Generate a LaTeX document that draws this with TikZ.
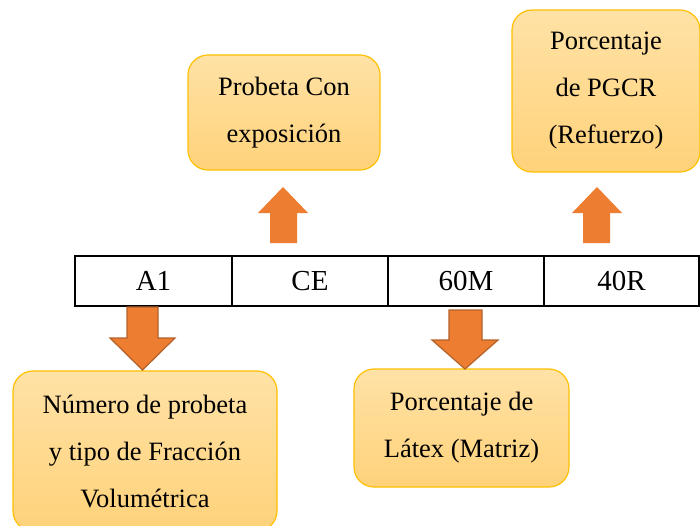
\documentclass[tikz,border=0pt]{standalone}
\usepackage{fontspec}
\setmainfont{Liberation Serif}
\definecolor{arroworange}{HTML}{ED7D31}
\definecolor{arrowedge}{HTML}{B4622A}
\definecolor{boxedge}{HTML}{FFC000}
\definecolor{boxtop}{HTML}{FFE2A6}
\definecolor{boxbot}{HTML}{FFD27A}
\begin{document}
\begin{tikzpicture}[x=1pt,y=-1pt,
  infobox/.style={draw=boxedge, line width=1.2pt, rounded corners=20pt,
    top color=boxtop, bottom color=boxbot, align=center,
    inner sep=0pt, outer sep=0pt,
    font=\fontsize{26.5}{47}\selectfont},
  cell/.style={draw=black, line width=1.6pt, minimum height=50pt,
    inner sep=0pt, outer sep=0pt, font=\fontsize{29}{34}\selectfont},
  uparrow/.style={fill=arroworange, draw=none},
  downarrow/.style={fill=arroworange, draw=arrowedge, line width=1.2pt, line join=miter}]
\useasboundingbox (0,0) rectangle (700,525);
\fill[white] (0,0) rectangle (700,525);

% boxes
\node[infobox, minimum width=192pt, minimum height=115pt] (ce) at (284,112.5)
  {Probeta Con\\exposición};
\node[infobox, minimum width=188pt, minimum height=162pt] (pgcr) at (606,91)
  {Porcentaje\\de PGCR\\(Refuerzo)};
\node[infobox, minimum width=264pt, minimum height=160pt] (num) at (145,451)
  {Número de probeta\\y tipo de Fracción\\Volumétrica};
\node[infobox, minimum width=215pt, minimum height=118pt] (latex) at (461.5,428)
  {Porcentaje de\\Látex (Matriz)};

% table
\node[cell, minimum width=157pt] (a1) at (153.5,281) {A1};
\node[cell, minimum width=156pt] (cee) at (310,281) {CE};
\node[cell, minimum width=156pt] (m60) at (466,281) {60M};
\node[cell, minimum width=155pt] (r40) at (621.5,281) {40R};

% up arrows
\fill[uparrow] (270,243) -- (270,213) -- (258,213) -- (283,187) -- (308,213) -- (297,213) -- (297,243) -- cycle;
\fill[uparrow] (583,243) -- (583,213) -- (572,213) -- (597,187) -- (622,213) -- (610,213) -- (610,243) -- cycle;

% down arrows
\draw[downarrow] (127,307) -- (158,307) -- (158,338) -- (175,338) -- (142.5,370) -- (110,338) -- (127,338) -- cycle;
\draw[downarrow] (449,310) -- (482,310) -- (482,340) -- (498,340) -- (465,369) -- (432,340) -- (449,340) -- cycle;
\end{tikzpicture}
\end{document}
